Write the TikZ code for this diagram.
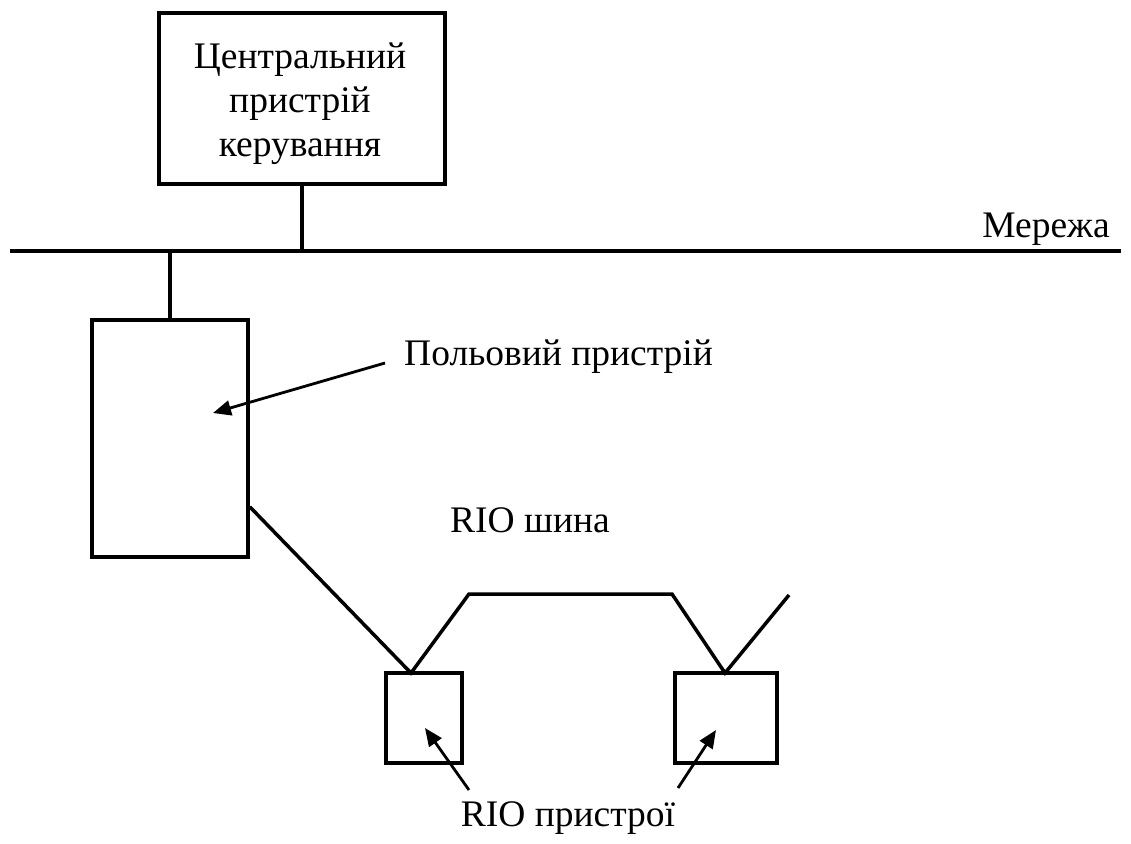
\documentclass[tikz,border=0pt]{standalone}
\usepackage{fontspec}
\setmainfont{Liberation Serif}
\usetikzlibrary{arrows.meta}
\begin{document}
\begin{tikzpicture}[x=1pt,y=-1pt,
  wire/.style={line width=3.5pt},
  box/.style={draw, line width=3.5pt, inner sep=0pt},
  lbl/.style={font=\fontsize{37.5}{44}\selectfont, inner sep=0pt, align=center},
  ptr/.style={line width=2.8pt, -{Triangle[length=18pt,width=15pt]}}]
\useasboundingbox (0,0) rectangle (1131,843);
% boxes
\node[box, minimum width=286pt, minimum height=171pt] (cpu) at (302,98.5) {};
\node[lbl] (cputext) at (300,104) {Центральний\\пристрій\\керування};
\node[box, minimum width=156pt, minimum height=237pt] (field) at (170,438.5) {};
\node[box, minimum width=76pt, minimum height=90pt] (rio1) at (424,718) {};
\node[box, minimum width=102pt, minimum height=90pt] (rio2) at (726,718) {};
% labels
\node[lbl] (net) at (1046,229) {Мережа};
\node[lbl, anchor=west] (pf) at (404,357) {Польовий пристрій};
\node[lbl] (bus) at (530,520) {RIO шина};
\node[lbl] (rio) at (568,818) {RIO пристрої};
% network line
\coordinate (netL) at (10,251);
\coordinate (netR) at (1121,251);
\draw[wire] (netL) -- (netR);
\draw[wire] (cpu.south) -- (cpu.south |- netL);
\draw[wire] (field.north) -- (field.north |- netL);
% RIO bus
\coordinate (v1) at (411,673);
\coordinate (b1) at (469,594);
\coordinate (b2) at (672,594);
\coordinate (v2) at (725,673);
\coordinate (bend) at (789,595);
\draw[wire, line join=miter] ([yshift=52pt]field.south east) -- (v1) -- (b1) -- (b2) -- (v2) -- (bend);
% pointers
\coordinate (pfa) at (385,363);
\coordinate (pft) at (213,413);
\draw[ptr] (pfa) -- (pft);
\coordinate (ra1) at (469,790);
\coordinate (rt1) at (425,728);
\draw[ptr] (ra1) -- (rt1);
\coordinate (ra2) at (678,788);
\coordinate (rt2) at (716,730);
\draw[ptr] (ra2) -- (rt2);
\end{tikzpicture}
\end{document}
